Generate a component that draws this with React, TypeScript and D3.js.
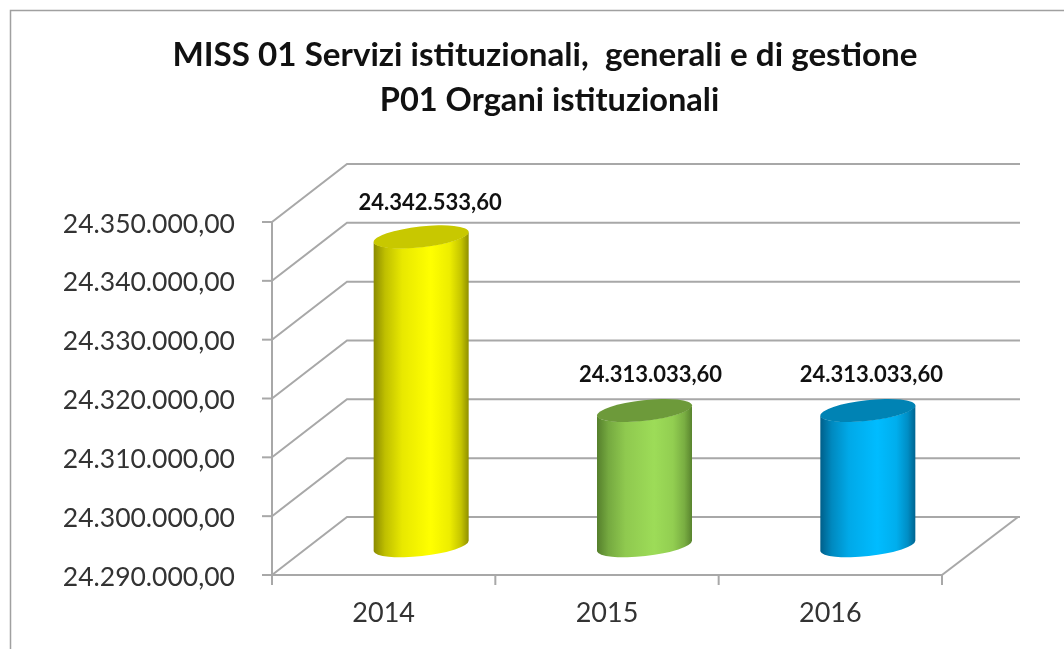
import React from "react";
import * as d3 from "d3";

const titleLines = ["MISS 01 Servizi istituzionali,  generali e di gestione", "P01 Organi istituzionali"];
const titleCenters = [545, 549.5];
const titleSizes = [33.2, 32.6];
const titleBaselines = [66, 110.5];
const categories = ["2014", "2015", "2016"];
const values = [24342533.6, 24313033.6, 24313033.6];
const bodyEdge = ["#8a8a00", "#557f2c", "#005f8a"];
const bodyMid = ["#ffff00", "#9ddc58", "#00bcff"];
const topFill = ["#c8c800", "#6d9a3a", "#0083b4"];
const gradientStops: [number, number][] = [[0, 0], [0.12, 0.45], [0.3, 0.8], [0.6, 1], [0.8, 0.85], [0.92, 0.5], [1, 0.05]];
const labelShift = [9, 6, 3.5];

const W = 1064, H = 649;
const x0 = 272, x1 = 942, yBottom = 575, yTop = 222;
const depthX = 75, depthY = 58;
const FONT = "Lato, 'Open Sans', sans-serif";
const grid = "#a8a8a8";

const locale = d3.formatLocale({ decimal: ",", thousands: ".", grouping: [3], currency: ["", "€"] });
const fmt = locale.format(",.2f");

const yScale = d3.scaleLinear().domain([24290000, 24350000]).range([yBottom, yTop]);
const xScale = d3.scaleBand<string>().domain(categories).range([x0, x1]);
const ticks = yScale.ticks(6);

const rx = 47.8, ry = 10.4, tilt = -6.3;
const dyHalf = 5.2;

function cylinderBody(cx: number, top: number, bottom: number) {
  const l = cx - 47.5, r = cx + 47.5;
  return `M${l},${top + dyHalf} L${l},${bottom + dyHalf} A${rx},${ry} ${tilt} 0 0 ${r},${bottom - dyHalf} L${r},${top - dyHalf} A${rx},${ry} ${tilt} 0 1 ${l},${top + dyHalf} Z`;
}

export default function App() {
  const offX = depthX / 2, offY = 29;
  return (
    <svg width={W} height={H} viewBox={`0 0 ${W} ${H}`}
      style={{ position: "absolute", left: 0, top: 0, background: "#fff", filter: "blur(0.5px)" }}>
      <defs>
        {categories.map((c, i) => (
          <linearGradient key={c} id={`g${i}`} x1="0" x2="1" y1="0" y2="0">
            {gradientStops.map(([o, t]) => (
              <stop key={o} offset={o} stopColor={d3.interpolateRgb(bodyEdge[i], bodyMid[i])(t)} />
            ))}
          </linearGradient>
        ))}
      </defs>

      <path d={`M10.5,${H} V10.5 H${W}`} fill="none" stroke="#a0a0a0" strokeWidth={1.5} />

      {titleLines.map((t, i) => (
        <text key={i} x={titleCenters[i]} y={titleBaselines[i]} textAnchor="middle" fontFamily={FONT} fontWeight={700}
          fontSize={titleSizes[i]} fill="#111" xmlSpace="preserve">{t}</text>
      ))}

      <g stroke={grid} strokeWidth={2} fill="none">
        {ticks.map((t) => (
          <path key={t} d={`M${x0},${yScale(t)} L${x0 + depthX},${yScale(t) - depthY} H${1020}`} />
        ))}
        <line x1={x0} x2={x0} y1={yTop} y2={yBottom} />
        <line x1={x1} y1={yBottom} x2={x1 + depthX + 1} y2={yBottom - depthY} />
        <line x1={x0} x2={x1} y1={yBottom} y2={yBottom} />
        {ticks.map((t) => (
          <line key={t} x1={x0 - 10} x2={x0} y1={yScale(t)} y2={yScale(t)} />
        ))}
        {[...categories.map((c) => xScale(c)!), x1].map((x) => (
          <line key={x} x1={x} x2={x} y1={yBottom} y2={yBottom + 10} />
        ))}
      </g>

      {ticks.map((t) => (
        <text key={t} x={235} y={yScale(t) + 10.5} textAnchor="end" fontFamily={FONT} fontSize={26.5} fill="#333">
          {fmt(t)}
        </text>
      ))}

      {categories.map((c, i) => {
        const cx = xScale(c)! + xScale.bandwidth() / 2 + offX;
        const top = yScale(values[i]) - offY;
        const bottom = yBottom - offY;
        return (
          <g key={c}>
            <path d={cylinderBody(cx, top, bottom)} fill={`url(#g${i})`} />
            <ellipse cx={cx} cy={top} rx={rx} ry={ry} transform={`rotate(${tilt} ${cx} ${top})`} fill={topFill[i]} />
            <text x={cx + labelShift[i]} y={top - (i === 0 ? 27 : 28)} textAnchor="middle" fontFamily={FONT}
              fontWeight={700} fontSize={22} fill="#111">{fmt(values[i])}</text>
            <text x={xScale(c)! + xScale.bandwidth() / 2} y={622} textAnchor="middle" fontFamily={FONT}
              fontSize={27} fill="#333">{c}</text>
          </g>
        );
      })}
    </svg>
  );
}
